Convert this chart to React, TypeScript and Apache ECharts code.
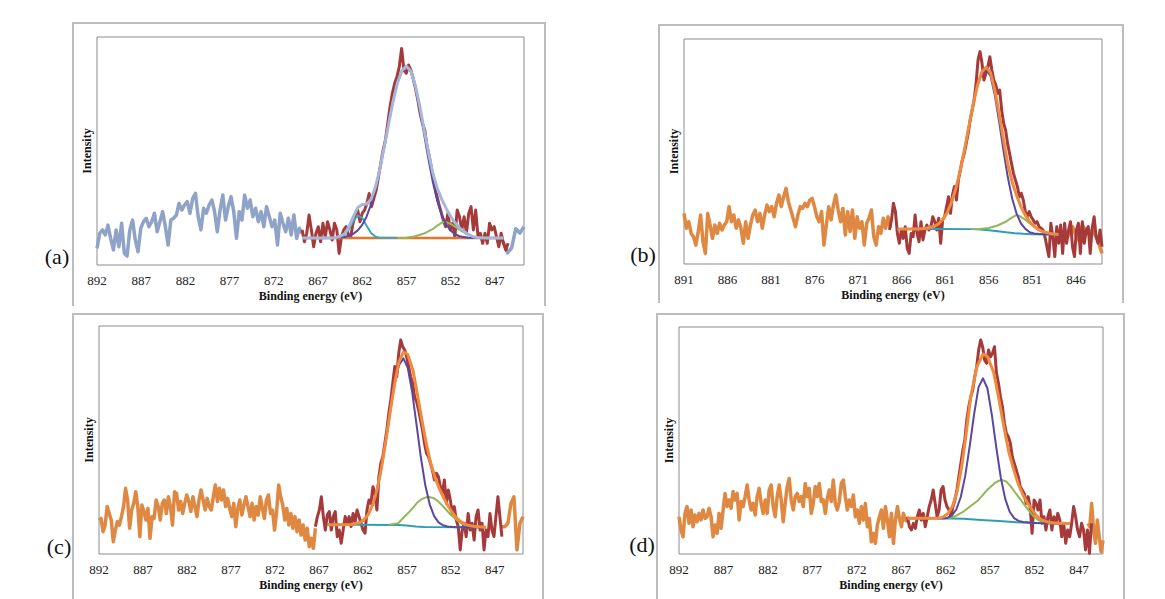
import React, { useEffect, useRef } from "react";
import * as echarts from "echarts";

// ---------------- Panel (a) ----------------
const A_RAW_LEFT_RANGE = [892.0, 868.8];
const A_RAW_LEFT = [7.3, 13.9, 15.4, 13.2, 17.5, 11.7, 6.6, 15.4, 8.0, 18.3, 5.1, 3.9, 15.4, 19.7, 11.0, 5.8, 16.1, 19.0, 20.5, 16.8, 19.0, 22.7, 14.6, 19.0, 23.4, 16.8, 8.8, 19.7, 20.5, 21.9, 27.0, 24.1, 26.3, 27.8, 22.7, 29.2, 31.4, 21.2, 15.4, 24.9, 22.7, 26.3, 28.5, 23.4, 14.6, 24.1, 30.7, 19.7, 25.6, 30.0, 23.4, 11.7, 23.4, 19.7, 30.7, 24.9, 28.5, 21.2, 24.9, 19.0, 23.4, 16.8, 25.6, 21.2, 16.8, 19.7, 8.8, 22.7, 18.3, 14.6, 20.5, 13.2, 21.9, 11.7, 16.1, 13.9];
const A_RAW_RIGHT_RANGE = [846.5, 843.7];
const A_RAW_RIGHT = [12.4, 10.0, 5.3, 7.5, 15.9, 14.0, 16.8];
const A_FIT_RANGE = [868.8, 845.5];
const A_FIT_DATA = [15.4, 10.2, 13.9, 21.9, 15.4, 8.0, 13.9, 16.8, 10.2, 18.3, 12.4, 19.0, 15.4, 11.0, 18.3, 15.4, 5.1, 12.4, 15.4, 16.8, 13.2, 12.4, 18.3, 21.9, 24.1, 19.0, 22.7, 24.1, 27.0, 31.4, 25.6, 29.2, 32.9, 38.7, 44.6, 50.4, 54.8, 62.1, 69.4, 75.3, 79.7, 82.6, 87.0, 95.0, 85.5, 84.1, 87.7, 85.5, 81.9, 77.5, 72.4, 66.5, 62.1, 59.2, 51.9, 47.5, 41.7, 37.3, 31.4, 27.0, 23.4, 19.7, 16.8, 22.7, 15.4, 18.3, 12.4, 24.1, 21.2, 15.4, 21.2, 13.9, 22.7, 25.6, 15.4, 24.1, 12.4, 13.9, 9.5, 13.9, 9.5, 18.3, 15.4, 16.8, 12.4, 8.0, 13.9, 9.5, 6.6, 9.5];
const A_BASE = [[868.8, 11.8], [846.0, 11.8]];
const A_CYAN = [[868.8, 11.8], [865, 11.8], [864.5, 12.3], [864, 13.2], [863.5, 15.7], [863, 19.4], [862.5, 21.8], [862, 20.7], [861.5, 17.2], [861, 14.0], [860.5, 12.4], [860, 11.9], [858, 11.8]];
const A_GREEN = [[858, 11.8], [857, 12.0], [856, 12.6], [855, 13.8], [854, 15.8], [853.5, 17.3], [853, 18.6], [852.8, 19.0], [852.5, 18.8], [852, 18.0], [851.5, 16.8], [851, 15.5], [850.5, 14.3], [850, 13.2], [849.5, 12.5], [849, 12.1], [848, 11.8]];
const A_PURPLE = [[868.8, 11.8], [866, 11.8], [865, 12.0], [864, 12.3], [863.5, 12.8], [863, 13.7], [862.5, 15.2], [862, 17.6], [861.5, 21.3], [861, 26.6], [860.5, 33.6], [860, 42.2], [859.5, 52.0], [859, 62.2], [858.5, 72.0], [858, 80.0], [857.5, 85.3], [857, 87.0], [856.5, 84.7], [856, 78.1], [855.5, 68.6], [855, 57.4], [854.5, 46.2], [854, 36.2], [853.5, 28.0], [853, 22.0], [852.5, 17.8], [852, 15.1], [851.5, 13.5], [851, 12.6], [850, 12.0], [846, 11.8]];
const A_ENVELOPE = [[868.8, 11.8], [866, 11.8], [865, 12.0], [864.5, 12.6], [864, 13.7], [863.5, 16.7], [863, 21.3], [862.5, 25.2], [862, 26.5], [861.5, 26.7], [861, 28.8], [860.5, 34.2], [860, 42.3], [859.5, 52.0], [859, 62.2], [858.5, 72.0], [858, 80.0], [857.5, 85.3], [857, 87.2], [856.5, 85.1], [856, 78.9], [855.5, 69.9], [855, 59.4], [854.5, 49.2], [854, 40.2], [853.5, 33.5], [853, 28.8], [852.5, 24.8], [852, 21.3], [851.5, 18.5], [851, 16.3], [850.5, 14.8], [850, 13.4], [849.5, 12.5], [849, 12.1], [848, 11.8], [846, 11.8]];

// ---------------- Panel (b) ----------------
const B_RAW_LEFT_RANGE = [891.0, 867.3];
const B_RAW_LEFT = [22.5, 15.9, 18.8, 13.6, 12.1, 8.4, 14.4, 21.8, 9.9, 4.7, 22.5, 17.3, 11.4, 17.3, 13.6, 18.1, 15.1, 17.3, 18.8, 25.5, 18.8, 21.8, 15.9, 19.6, 15.9, 9.2, 18.8, 11.4, 17.3, 21.8, 24.0, 18.8, 22.5, 15.9, 21.8, 26.2, 23.3, 25.5, 21.0, 27.0, 30.7, 25.5, 29.9, 33.6, 27.7, 24.0, 20.3, 16.6, 21.8, 25.5, 24.7, 27.0, 25.5, 28.4, 29.2, 25.5, 21.0, 18.8, 23.3, 8.4, 17.3, 25.5, 19.6, 26.2, 30.7, 24.0, 18.8, 24.7, 12.9, 23.3, 14.4, 24.0, 11.4, 21.0, 15.9, 18.8, 8.4, 18.1, 20.3, 24.0, 12.1, 8.4, 16.6, 13.6, 20.3, 15.9, 21.0, 15.9];
const B_RAW_RIGHT_RANGE = [847.5, 843.0];
const B_RAW_RIGHT = [15.1, 12.1, 16.6, 10.7, 17.3, 13.6, 15.1, 11.4, 4.7];
const B_FIT_RANGE = [867.4, 843.0];
const B_FIT_DATA = [15.1, 19.6, 27.0, 23.3, 13.6, 9.2, 15.1, 11.4, 16.6, 7.0, 4.7, 13.6, 12.1, 21.8, 13.6, 9.9, 18.8, 10.7, 15.1, 17.3, 15.1, 16.6, 21.0, 18.8, 15.1, 20.3, 9.2, 19.6, 21.0, 25.5, 29.9, 22.5, 30.7, 34.4, 28.4, 37.3, 41.8, 46.2, 49.2, 53.6, 58.1, 64.0, 68.4, 72.9, 80.3, 90.7, 94.4, 89.2, 81.8, 84.7, 87.7, 92.1, 86.2, 81.8, 79.6, 75.9, 77.3, 68.4, 62.5, 59.6, 53.6, 49.2, 44.7, 40.3, 37.3, 34.4, 29.9, 31.4, 28.4, 23.3, 21.0, 23.3, 21.0, 19.6, 18.1, 18.8, 16.6, 15.9, 15.1, 12.1, 7.7, 3.3, 18.1, 12.1, 3.3, 16.6, 9.2, 17.3, 4.7, 18.1, 9.2, 15.1, 18.8, 7.7, 3.3, 15.1, 18.1, 4.7, 18.8, 9.2, 15.1, 16.6, 4.7, 15.9, 21.0, 12.1, 9.2, 15.1, 7.7];
const B_BASE = [[866.5, 15.6], [862, 15.6], [858, 15.5], [857, 15.3], [856, 15.0], [855, 14.6], [854, 14.1], [853, 13.7], [852, 13.4], [851, 13.2], [848, 13.1]];
const B_GREEN = [[858, 15.5], [857, 15.6], [856, 16.0], [855, 17.1], [854, 18.9], [853.5, 20.3], [853, 21.4], [852.8, 21.8], [852.5, 21.4], [852, 20.2], [851.5, 18.7], [851, 17.2], [850.5, 15.9], [850, 14.8], [849, 13.6], [848, 13.2]];
const B_PURPLE = [[866.5, 15.6], [864.3, 15.6], [863.3, 15.8], [862.3, 16.7], [861.8, 17.8], [861.3, 19.7], [860.8, 22.7], [860.3, 27.2], [859.8, 33.3], [859.3, 41.2], [858.8, 50.7], [858.3, 60.9], [857.8, 70.8], [857.3, 79.2], [856.8, 84.7], [856.3, 86.6], [855.8, 83.5], [855.3, 74.9], [854.8, 63.0], [854.3, 50.1], [853.8, 38.2], [853.3, 28.9], [852.8, 22.3], [852.3, 18.0], [851.8, 15.6], [851.3, 14.1], [850.8, 13.6], [849.8, 13.2], [848, 13.1]];
const B_ENVELOPE = [[866.5, 15.6], [864.3, 15.6], [863.3, 15.8], [862.3, 16.7], [861.8, 17.8], [861.3, 19.7], [860.8, 22.7], [860.3, 27.2], [859.8, 33.3], [859.3, 41.2], [858.8, 50.7], [858.3, 60.9], [857.8, 70.8], [857.3, 79.5], [856.8, 85.3], [856.3, 87.5], [855.8, 85.0], [855.3, 77.2], [854.8, 66.5], [854.3, 54.9], [853.8, 44.1], [853.3, 36.1], [852.8, 30.4], [852.3, 25.4], [851.8, 21.6], [851.3, 18.7], [850.8, 16.8], [850.3, 15.3], [849.8, 14.4], [849, 13.6], [848, 13.1]];

// ---------------- Panel (c) ----------------
const C_RAW_LEFT_RANGE = [892.0, 867.4];
const C_RAW_LEFT = [14.9, 15.6, 9.8, 12.7, 20.8, 17.8, 14.9, 5.4, 10.5, 14.2, 12.7, 16.4, 20.8, 28.8, 23.7, 11.3, 19.3, 22.2, 27.3, 20.8, 7.6, 21.5, 18.6, 14.9, 20.0, 6.9, 16.4, 15.6, 23.7, 20.8, 14.9, 22.2, 23.7, 17.8, 25.1, 20.8, 12.7, 27.3, 26.6, 19.3, 23.0, 17.8, 22.2, 25.9, 23.0, 18.6, 25.1, 20.8, 16.4, 23.7, 28.1, 23.7, 19.3, 24.4, 20.8, 19.3, 25.1, 30.3, 23.0, 28.8, 23.7, 28.1, 20.8, 24.4, 20.0, 16.4, 22.2, 12.0, 20.0, 23.7, 17.1, 21.5, 25.1, 20.8, 16.4, 22.2, 14.9, 20.8, 17.1, 25.1, 20.0, 15.6, 23.7, 25.9, 17.8, 19.3, 10.5, 18.6, 30.3, 25.1, 21.5, 14.9, 20.0, 12.7, 17.8, 11.3, 16.4, 9.8, 14.9, 8.3, 12.7, 6.1, 11.3, 3.2, 6.9, 2.5, 11.3];
const C_RAW_RIGHT_RANGE = [846.2, 843.8];
const C_RAW_RIGHT = [12.0, 12.0, 13.5, 22.2, 25.1, 1.8, 13.5, 16.4];
const C_FIT_RANGE = [867.4, 846.2];
const C_FIT_DATA = [12.0, 16.4, 19.3, 25.1, 16.4, 10.5, 17.1, 18.6, 10.5, 16.4, 18.6, 7.6, 10.5, 4.7, 10.5, 16.4, 13.5, 16.4, 12.0, 17.8, 14.2, 19.3, 16.4, 13.5, 10.5, 9.1, 19.3, 23.7, 22.2, 29.5, 26.6, 19.3, 33.9, 39.8, 42.7, 48.5, 54.4, 61.7, 67.5, 74.9, 82.2, 77.8, 88.0, 93.9, 90.9, 89.5, 86.5, 82.2, 77.8, 74.9, 69.0, 66.8, 63.2, 58.8, 54.4, 48.5, 44.2, 42.7, 39.8, 36.8, 32.5, 35.4, 33.9, 29.5, 26.6, 32.5, 22.2, 28.1, 23.7, 17.8, 20.8, 14.9, 12.0, 1.8, 10.5, 13.5, 7.6, 17.8, 10.5, 13.5, 6.1, 16.4, 19.3, 10.5, 13.5, 1.8, 10.5, 7.6, 17.8, 10.5, 7.6, 16.4, 25.1, 16.4, 7.6];
const C_BASE = [[866, 12.8], [862.7, 12.8], [858, 12.7], [857, 12.5], [856, 12.1], [855, 11.8], [850, 11.7], [848, 11.7]];
const C_GREEN = [[859, 12.8], [858, 13.5], [857.3, 16.2], [856.7, 18.6], [856.2, 20.8], [855.8, 22.6], [855.4, 23.8], [855, 24.6], [854.6, 25.1], [854, 24.6], [853.5, 23.3], [853, 21.4], [852.5, 19.3], [852, 17.2], [851.5, 15.4], [851, 13.9], [850.5, 12.9], [850, 12.3], [849, 11.8], [848, 11.7]];
const C_PURPLE = [[866, 12.8], [865, 12.8], [863.4, 12.9], [862.4, 13.7], [861.9, 14.9], [861.4, 17.3], [860.9, 21.5], [860.4, 28.1], [859.9, 37.5], [859.4, 49.3], [858.9, 62.3], [858.4, 74.3], [857.9, 82.8], [857.4, 85.8], [856.9, 81.7], [856.4, 71.0], [855.9, 56.6], [855.4, 42.1], [854.9, 30.0], [854.4, 21.7], [853.9, 16.6], [853.4, 13.9], [852.9, 12.6], [852.4, 12.1], [851.4, 11.7], [848, 11.7]];
const C_ENVELOPE = [[866, 12.8], [865, 12.8], [863.4, 12.9], [862.4, 13.7], [861.9, 14.9], [861.4, 17.3], [860.9, 21.5], [860.4, 28.1], [859.9, 37.5], [859.4, 49.3], [858.9, 62.4], [858.4, 74.7], [857.9, 84.3], [857.4, 88.6], [856.9, 87.5], [856.3, 80.5], [855.8, 70.0], [855.3, 59.0], [854.8, 48.5], [854.3, 40.0], [853.8, 33.5], [853.3, 28.5], [852.8, 24.5], [852.3, 21.0], [851.8, 18.0], [851.3, 15.6], [850.8, 14.0], [850.3, 12.9], [849.5, 12.2], [848, 11.7]];

// ---------------- Panel (d) ----------------
const D_RAW_LEFT_RANGE = [892.0, 866.3];
const D_RAW_LEFT = [16.4, 10.6, 7.6, 17.9, 20.9, 13.5, 19.4, 12.0, 17.2, 14.2, 17.9, 15.0, 19.4, 15.7, 16.4, 20.1, 16.4, 7.6, 12.8, 9.1, 17.9, 11.3, 19.4, 26.7, 20.9, 23.8, 20.1, 27.5, 23.8, 26.7, 15.0, 23.1, 20.9, 25.3, 30.4, 23.8, 19.4, 22.3, 17.2, 25.3, 28.9, 22.3, 17.9, 23.8, 17.9, 28.2, 30.4, 20.9, 16.4, 25.3, 30.4, 23.8, 14.2, 22.3, 29.7, 33.3, 23.8, 19.4, 25.3, 26.7, 23.1, 25.3, 20.9, 31.1, 25.3, 28.9, 17.9, 22.3, 29.7, 25.3, 31.1, 23.1, 23.8, 17.9, 24.5, 28.2, 23.1, 32.6, 22.3, 19.4, 23.1, 31.1, 32.6, 25.3, 19.4, 23.8, 20.9, 26.0, 16.4, 19.4, 13.5, 20.9, 15.0, 22.3, 12.0, 15.7, 5.4, 9.1, 4.7, 12.8, 16.4, 19.4, 11.3, 20.9, 15.0, 7.6, 17.9, 4.7, 15.0, 20.9, 15.7, 12.0, 17.9, 15.0, 14.2];
const D_RAW_RIGHT_RANGE = [846.0, 844.3];
const D_RAW_RIGHT = [13.5, 12.0, 22.3, 10.6, 4.7, 15.0, 7.6, 1.0, 6.0];
const D_FIT_RANGE = [866.3, 845.6];
const D_FIT_DATA = [16.4, 12.0, 10.6, 13.5, 11.3, 16.4, 19.4, 15.0, 17.9, 12.0, 16.4, 20.9, 23.8, 28.2, 22.3, 16.4, 19.4, 28.2, 29.7, 23.8, 20.9, 19.4, 16.4, 20.9, 23.8, 28.2, 34.1, 39.9, 45.8, 50.2, 59.0, 64.9, 69.3, 72.2, 78.1, 82.5, 89.9, 94.3, 91.3, 85.5, 84.0, 89.9, 86.9, 88.4, 91.3, 79.6, 75.2, 69.3, 64.9, 57.6, 53.2, 51.7, 48.8, 42.9, 39.9, 37.0, 34.1, 29.7, 28.2, 26.7, 22.3, 25.3, 20.9, 9.1, 23.8, 22.3, 19.4, 23.8, 13.5, 16.4, 10.6, 16.4, 19.4, 10.6, 16.4, 13.5, 17.9, 15.0, 7.6, 13.5, 4.7, 10.6, 7.6, 13.5, 20.9, 16.4, 10.6, 7.6, 13.5, 10.6, 1.8, 10.6, 0.3, 13.5];
const D_BASE = [[866.3, 15.8], [863, 15.7], [860, 15.5], [858, 15.0], [856, 14.5], [854, 14.0], [852, 13.7], [850, 13.5], [848, 13.4]];
const D_GREEN = [[862, 15.6], [861, 16.5], [860, 18.7], [859, 21.7], [858.3, 23.8], [857.5, 27.5], [857, 29.4], [856.5, 31.2], [856, 32.3], [855.7, 32.6], [855.2, 32.0], [854.7, 29.9], [854.2, 27.2], [853.7, 24.6], [853.2, 22.0], [852.7, 19.4], [852.2, 17.0], [851.7, 15.3], [851.2, 14.2], [850.5, 13.6], [849, 13.4]];
const D_PURPLE = [[866.3, 15.8], [863, 15.7], [862.3, 15.6], [861.8, 15.9], [861.3, 17.0], [860.8, 19.6], [860.3, 25.1], [859.8, 34.4], [859.3, 47.4], [858.8, 61.6], [858.3, 73.5], [857.8, 77.4], [857.3, 72.9], [856.8, 61.2], [856.3, 46.8], [855.8, 33.7], [855.3, 24.3], [854.8, 18.6], [854.3, 15.8], [853.8, 14.6], [853.3, 14.1], [852, 13.7], [848, 13.4]];
const D_ENVELOPE = [[866.3, 15.8], [863.4, 15.7], [862.7, 15.8], [862.2, 16.5], [861.7, 18.0], [861.2, 21.3], [860.7, 27.8], [860.2, 38.4], [859.7, 52.8], [859.2, 68.7], [858.5, 82.3], [857.8, 88.1], [857.3, 87.0], [856.6, 80.0], [856.0, 68.0], [855.4, 55.0], [854.9, 45.0], [854.3, 36.5], [853.8, 30.5], [853.3, 26.0], [852.8, 22.5], [852.3, 19.6], [851.8, 17.0], [851.3, 15.3], [850.5, 14.0], [849.5, 13.6], [848, 13.4]];

// ---------------- helpers ----------------
// evenly spaced spectrum channels between the two energies of a range
function spread(range: number[], values: number[]): number[][] {
  const [from, to] = range;
  const n = values.length;
  return values.map((v, i) => [-(from + ((to - from) * i) / (n - 1)), v]);
}
function neg(points: number[][]): number[][] {
  return points.map(([e, v]) => [-e, v]);
}

const FONT = "'Liberation Serif', 'DejaVu Serif', serif";

const RED = "#A63A3A";
const CYAN = "#3FA3BE";
const TEAL = "#2F9EB4";
const GREEN = "#93B656";
const PURPLE = "#5A48A0";
const GRAY = "#8FA2C7";
const ENV_A = "#A6B7DC";
const ORANGE_RAW = "#DF8842";
const ORANGE_ENV = "#F08A3C";
const ORANGE_BASE = "#E8742B";

type S = { data: number[][]; color: string; width: number };

const PANELS: {
  label: string;
  labelPos: number[];
  grid: { left: number; top: number; width: number; height: number };
  xMin: number;
  xMax: number;
  frame: number[][];
  series: S[];
}[] = [
  {
    label: "(a)",
    labelPos: [57, 256],
    grid: { left: 97, top: 37, width: 427, height: 228 },
    xMin: 892,
    xMax: 843.7,
    frame: [[73, 306], [73, 23], [545, 23], [545, 306]],
    series: [
      { data: spread(A_RAW_LEFT_RANGE, A_RAW_LEFT), color: GRAY, width: 3.5 },
      { data: spread(A_RAW_RIGHT_RANGE, A_RAW_RIGHT), color: GRAY, width: 3.5 },
      { data: spread(A_FIT_RANGE, A_FIT_DATA), color: RED, width: 3 },
      { data: neg(A_BASE), color: ORANGE_BASE, width: 2.5 },
      { data: neg(A_CYAN), color: CYAN, width: 2 },
      { data: neg(A_GREEN), color: GREEN, width: 2 },
      { data: neg(A_PURPLE), color: PURPLE, width: 2 },
      { data: neg(A_ENVELOPE), color: ENV_A, width: 3 },
    ],
  },
  {
    label: "(b)",
    labelPos: [643, 254],
    grid: { left: 684, top: 39, width: 418, height: 225 },
    xMin: 891,
    xMax: 843,
    frame: [[659, 303], [659, 25], [1123, 25], [1123, 303]],
    series: [
      { data: spread(B_RAW_LEFT_RANGE, B_RAW_LEFT), color: ORANGE_RAW, width: 3.5 },
      { data: spread(B_RAW_RIGHT_RANGE, B_RAW_RIGHT), color: ORANGE_RAW, width: 3.5 },
      { data: spread(B_FIT_RANGE, B_FIT_DATA), color: RED, width: 3 },
      { data: neg(B_BASE), color: TEAL, width: 2 },
      { data: neg(B_GREEN), color: GREEN, width: 2 },
      { data: neg(B_PURPLE), color: PURPLE, width: 2 },
      { data: neg(B_ENVELOPE), color: ORANGE_ENV, width: 3 },
    ],
  },
  {
    label: "(c)",
    labelPos: [59, 546],
    grid: { left: 99, top: 326, width: 424, height: 228 },
    xMin: 892,
    xMax: 843.8,
    frame: [[73, 599], [73, 314], [543, 314], [543, 599]],
    series: [
      { data: spread(C_RAW_LEFT_RANGE, C_RAW_LEFT), color: ORANGE_RAW, width: 3.5 },
      { data: spread(C_RAW_RIGHT_RANGE, C_RAW_RIGHT), color: ORANGE_RAW, width: 3.5 },
      { data: spread(C_FIT_RANGE, C_FIT_DATA), color: RED, width: 3 },
      { data: neg(C_BASE), color: TEAL, width: 2 },
      { data: neg(C_GREEN), color: GREEN, width: 2 },
      { data: neg(C_PURPLE), color: PURPLE, width: 2 },
      { data: neg(C_ENVELOPE), color: ORANGE_ENV, width: 3 },
    ],
  },
  {
    label: "(d)",
    labelPos: [642, 544],
    grid: { left: 679, top: 327, width: 424, height: 227 },
    xMin: 892,
    xMax: 844.3,
    frame: [[657, 599], [657, 314], [1124, 314], [1124, 599]],
    series: [
      { data: spread(D_RAW_LEFT_RANGE, D_RAW_LEFT), color: ORANGE_RAW, width: 3.5 },
      { data: spread(D_RAW_RIGHT_RANGE, D_RAW_RIGHT), color: ORANGE_RAW, width: 3.5 },
      { data: spread(D_FIT_RANGE, D_FIT_DATA), color: RED, width: 3 },
      { data: neg(D_BASE), color: TEAL, width: 2 },
      { data: neg(D_GREEN), color: GREEN, width: 2 },
      { data: neg(D_PURPLE), color: PURPLE, width: 2 },
      { data: neg(D_ENVELOPE), color: ORANGE_ENV, width: 3 },
    ],
  },
];

function buildOption() {
  const grid: any[] = [];
  const xAxis: any[] = [];
  const yAxis: any[] = [];
  const series: any[] = [];
  const graphic: any[] = [];

  PANELS.forEach((p, i) => {
    grid.push({
      ...p.grid,
      show: true,
      borderColor: "#8C8C8C",
      borderWidth: 1,
      backgroundColor: "transparent",
      containLabel: false,
    });
    xAxis.push({
      type: "value",
      gridIndex: i,
      min: -p.xMin,
      max: -p.xMax,
      interval: 5,
      name: "Binding energy (eV)",
      nameLocation: "middle",
      nameGap: 25,
      nameTextStyle: { fontFamily: FONT, fontWeight: "bold", fontSize: 12, color: "#111" },
      axisLine: { show: false },
      axisTick: { show: false },
      splitLine: { show: false },
      axisLabel: {
        fontFamily: FONT,
        fontSize: 13,
        color: "#222",
        margin: 9,
        showMinLabel: true,
        showMaxLabel: false,
        formatter: (v: number) => String(Math.round(-v)),
      },
    });
    yAxis.push({
      type: "value",
      gridIndex: i,
      min: 0,
      max: 100,
      name: "Intensity",
      nameLocation: "middle",
      nameGap: 4,
      nameTextStyle: { fontFamily: FONT, fontWeight: "bold", fontSize: 12, color: "#111" },
      axisLine: { show: false },
      axisTick: { show: false },
      axisLabel: { show: false },
      splitLine: { show: false },
    });
    p.series.forEach((s) => {
      series.push({
        type: "line",
        xAxisIndex: i,
        yAxisIndex: i,
        data: s.data,
        showSymbol: false,
        symbol: "none",
        silent: true,
        lineStyle: { color: s.color, width: s.width, join: "round" },
        itemStyle: { color: s.color },
      });
    });
    graphic.push({
      type: "polyline",
      shape: { points: p.frame },
      style: { stroke: "#BDBDBD", lineWidth: 2, fill: null },
      silent: true,
    });
    graphic.push({
      type: "text",
      x: p.labelPos[0],
      y: p.labelPos[1],
      style: {
        text: p.label,
        fontFamily: FONT,
        fontSize: 22,
        fill: "#111",
        align: "center",
        verticalAlign: "middle",
      },
      silent: true,
    });
  });

  return {
    animation: false,
    backgroundColor: "#ffffff",
    grid,
    xAxis,
    yAxis,
    series,
    graphic,
  };
}

export default function App() {
  const ref = useRef<HTMLDivElement>(null);
  useEffect(() => {
    if (!ref.current) return;
    const chart = echarts.init(ref.current, undefined, { renderer: "svg" });
    chart.setOption(buildOption() as any);
    return () => chart.dispose();
  }, []);
  return (
    <div
      ref={ref}
      style={{ position: "absolute", left: 0, top: 0, width: 1165, height: 599, background: "#fff" }}
    />
  );
}
